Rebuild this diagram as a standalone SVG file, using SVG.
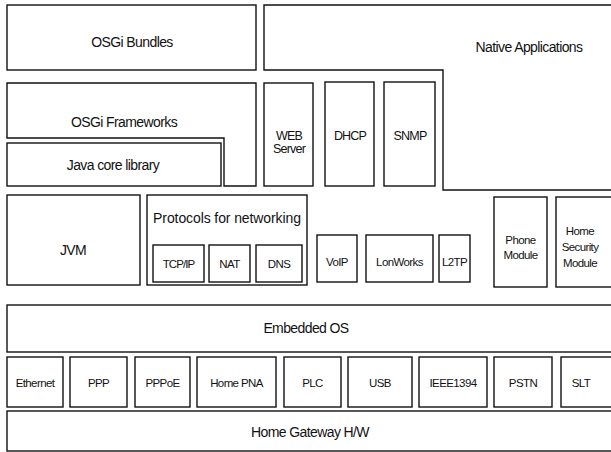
<svg xmlns="http://www.w3.org/2000/svg" width="611" height="452" viewBox="0 0 611 452">
<style>
rect, polygon { fill: #fff; stroke: #111; stroke-width: 1.4; }
text { font-family: "Liberation Sans", Arial, sans-serif; fill: #111; text-anchor: middle; }
.l { font-size: 14px; letter-spacing: -0.6px; }
.m { font-size: 12.5px; letter-spacing: -0.8px; }
.s { font-size: 11.5px; letter-spacing: -0.6px; }
</style>
<rect x="0" y="0" width="611" height="452" style="stroke:none"/>
<g id="osgi-bundles"><rect x="7" y="5" width="249" height="65"/><text class="l" x="132" y="47">OSGi Bundles</text></g>
<g id="native-applications"><polygon points="264,5 614,5 614,190 443,190 443,70 264,70"/><text class="l" x="529" y="52">Native Applications</text></g>
<g id="osgi-frameworks"><polygon points="7,83 256,83 256,186 224,186 224,138 7,138"/><text class="l" x="124" y="127">OSGi Frameworks</text></g>
<g id="java-core-library"><rect x="7" y="143" width="214" height="43"/><text class="l" x="113" y="170">Java core library</text></g>
<g id="web-server"><rect x="264" y="83" width="49" height="103"/><text class="m" x="289" y="140">WEB</text><text class="m" x="289" y="153">Server</text></g>
<g id="dhcp"><rect x="325" y="82" width="49" height="104"/><text class="m" x="350" y="140">DHCP</text></g>
<g id="snmp"><rect x="384" y="82" width="51" height="104"/><text class="m" x="410" y="140">SNMP</text></g>
<g id="jvm"><rect x="7" y="195" width="133" height="90"/><text class="l" x="73" y="255">JVM</text></g>
<g id="protocols"><rect x="147" y="195" width="160" height="90"/><text x="227" y="223" style="font-size:14px;letter-spacing:-0.1px">Protocols for networking</text></g>
<g id="tcp-ip"><rect x="153" y="245" width="51" height="37"/><text class="s" x="178.5" y="268" style="letter-spacing:-0.9px">TCP/IP</text></g>
<g id="nat"><rect x="209" y="245" width="41" height="37"/><text class="s" x="229.5" y="268">NAT</text></g>
<g id="dns"><rect x="256" y="245" width="46" height="37"/><text class="s" x="279" y="268">DNS</text></g>
<g id="voip"><rect x="317" y="235" width="40" height="47"/><text class="s" x="337" y="266">VoIP</text></g>
<g id="lonworks"><rect x="366" y="235" width="67" height="47"/><text class="s" x="399.5" y="266">LonWorks</text></g>
<g id="l2tp"><rect x="439" y="235" width="31" height="47"/><text class="s" x="454.5" y="266">L2TP</text></g>
<g id="phone-module"><rect x="494" y="197" width="53" height="90"/><text class="s" x="520.5" y="244">Phone</text><text class="s" x="520.5" y="259">Module</text></g>
<g id="home-security-module"><rect x="556" y="197" width="60" height="90"/><text class="s" x="580" y="235">Home</text><text class="s" x="580" y="251">Security</text><text class="s" x="580" y="267">Module</text></g>
<g id="embedded-os"><rect x="7" y="305" width="609" height="47"/><text class="l" x="306" y="333">Embedded OS</text></g>
<g id="ethernet"><rect x="7" y="357" width="56" height="50"/><text class="s" x="35" y="387">Ethernet</text></g>
<g id="ppp"><rect x="70" y="357" width="57" height="50"/><text class="s" x="98.5" y="387">PPP</text></g>
<g id="pppoe"><rect x="135" y="357" width="55" height="50"/><text class="s" x="162.5" y="387">PPPoE</text></g>
<g id="home-pna"><rect x="197" y="357" width="79" height="50"/><text class="s" x="236.5" y="387">Home PNA</text></g>
<g id="plc"><rect x="284" y="357" width="57" height="50"/><text class="s" x="312.5" y="387">PLC</text></g>
<g id="usb"><rect x="348" y="357" width="64" height="50"/><text class="s" x="380" y="387">USB</text></g>
<g id="ieee1394"><rect x="419" y="357" width="68" height="50"/><text class="s" x="453" y="387">IEEE1394</text></g>
<g id="pstn"><rect x="494" y="357" width="58" height="50"/><text class="s" x="523" y="387">PSTN</text></g>
<g id="slt"><rect x="561" y="357" width="55" height="50"/><text class="s" x="581" y="387">SLT</text></g>
<g id="home-gateway-hw"><rect x="7" y="411" width="609" height="40"/><text class="l" x="310" y="437">Home Gateway H/W</text></g>
<g id="connectors"></g>
</svg>
